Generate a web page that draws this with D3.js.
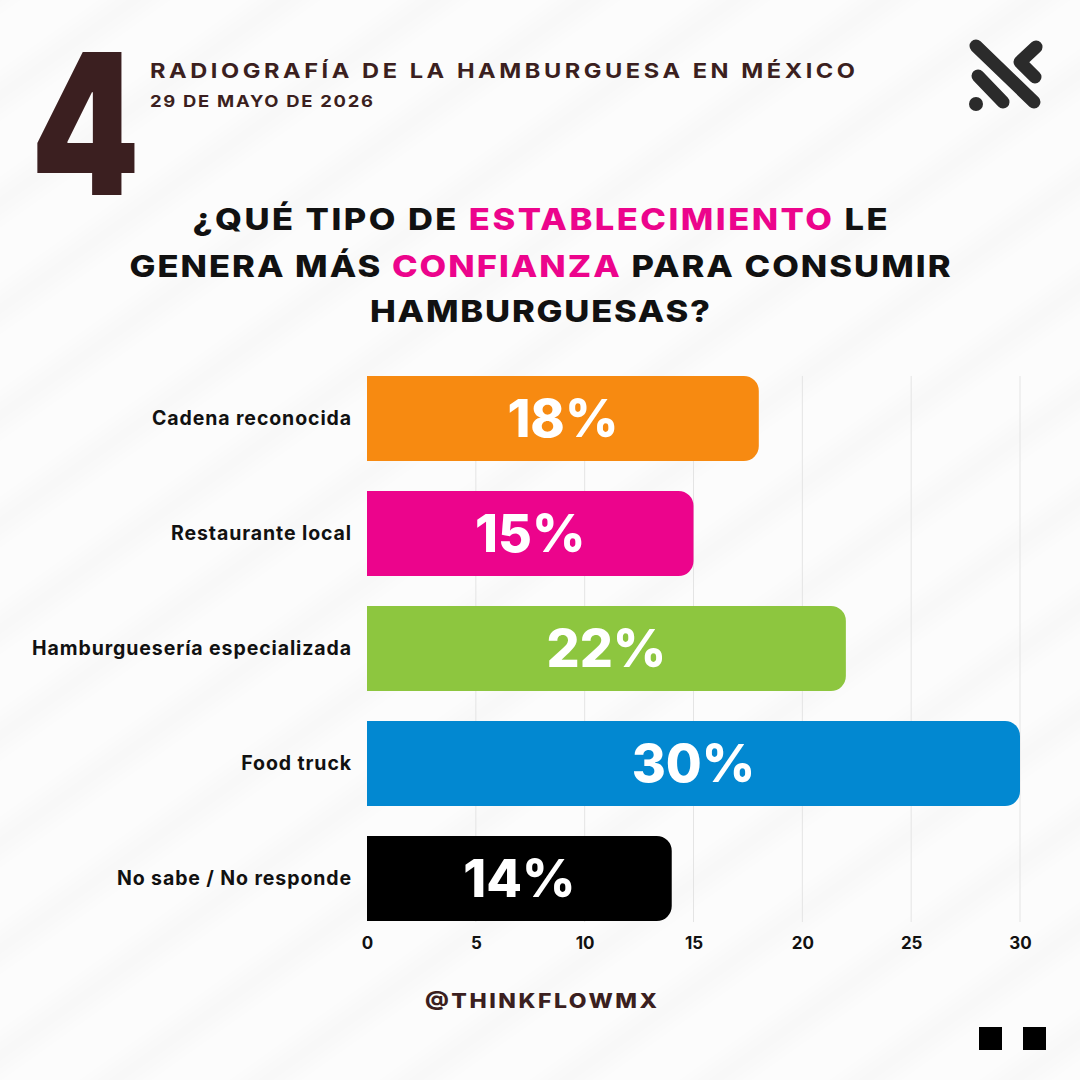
<!DOCTYPE html>
<html>
<head>
<meta charset="utf-8">
<script src="https://cdn.jsdelivr.net/npm/d3@7"></script>
<style>
  html, body { margin: 0; padding: 0; background: #f8f8f8; }
  svg text { font-family: Inter, "Open Sans", sans-serif; }
</style>
</head>
<body>
<script>
const W = 1080, H = 1080

// data
const categories = ["Cadena reconocida", "Restaurante local", "Hamburguesería especializada", "Food truck", "No sabe / No responde"]
const values = [18, 15, 22, 30, 14]
const colors = ["#f78a11", "#ec048c", "#8dc63f", "#0288d1", "#000000"]
const ticks = [0, 5, 10, 15, 20, 25, 30]

const BROWN = "#3b1f20"
const WIDE = 1.15   // horizontal stretch to get closer to the wide geometric face

var svg = d3.select("body").append("svg")
    .attr("width", W)
    .attr("height", H)

// background, soft diagonal bands
var defs = svg.append("defs")
defs.append("filter").attr("id", "soft")
    .append("feGaussianBlur").attr("stdDeviation", 8)

svg.append("rect").attr("width", W).attr("height", H).attr("fill", "#f8f8f8")
var bands = svg.append("g").attr("filter", "url(#soft)")
d3.range(-8, 16).forEach(function(i){
    bands.append("line")
        .attr("x1", i * 150 - 400).attr("y1", H + 100)
        .attr("x2", i * 150 + 1400).attr("y2", -100)
        .attr("stroke", "#ffffff")
        .attr("stroke-width", 60)
        .attr("opacity", 0.6)
})

// stretched text helper: x,y is the anchor point, len is the final width on screen
var wideText = function(x, y, size, weight, len, anchor){
    var g = svg.append("g").attr("transform", "translate(" + x + "," + y + ") scale(" + WIDE + ",1)")
    return g.append("text")
        .attr("x", 0).attr("y", 0)
        .attr("text-anchor", anchor)
        .attr("font-size", size)
        .attr("font-weight", weight)
        .attr("textLength", len / WIDE)
        .attr("lengthAdjust", "spacing")
}

// header
svg.append("text")
    .attr("transform", "translate(31,195) scale(0.79,1)")
    .attr("font-size", 196)
    .attr("font-weight", 900)
    .attr("fill", BROWN)
    .text("4")

wideText(150, 78, 20.5, 700, 705, "start")
    .attr("fill", BROWN)
    .text("RADIOGRAFÍA DE LA HAMBURGUESA EN MÉXICO")

wideText(150, 107, 16, 700, 223, "start")
    .attr("fill", BROWN)
    .text("29 DE MAYO DE 2026")

// logo
var logo = svg.append("g")
    .attr("stroke", "#2b2b2b")
    .attr("stroke-width", 13)
    .attr("stroke-linecap", "round")
    .attr("stroke-linejoin", "round")
    .attr("fill", "none")
logo.append("line").attr("x1", 976).attr("y1", 46).attr("x2", 1034).attr("y2", 102)
logo.append("line").attr("x1", 978).attr("y1", 76).attr("x2", 1003).attr("y2", 102)
logo.append("polyline").attr("points", "1036,47 1020,62 1035,77")
logo.append("circle").attr("cx", 976).attr("cy", 104).attr("r", 7).attr("fill", "#2b2b2b").attr("stroke", "none")

// question title
var titleLines = [
    [["¿QUÉ TIPO DE ", "#111"], ["ESTABLECIMIENTO", "#ec048c"], [" LE", "#111"]],
    [["GENERA MÁS ", "#111"], ["CONFIANZA", "#ec048c"], [" PARA CONSUMIR", "#111"]],
    [["HAMBURGUESAS?", "#111"]]
]
var titleY = [230, 277, 322]
var titleW = [695, 821, 340]
titleLines.forEach(function(line, i){
    var t = wideText(540, titleY[i], 30, 800, titleW[i], "middle")
        .style("white-space", "pre")
    line.forEach(function(seg){
        t.append("tspan").attr("fill", seg[1]).text(seg[0])
    })
})

// chart
var x = d3.scaleLinear().domain([0, 30]).range([367, 1020])
var y = d3.scaleBand().domain(categories).range([361, 936]).paddingInner(0.26).paddingOuter(0.13)

var grid = svg.append("g")
grid.selectAll("line").data(ticks.slice(1)).enter().append("line")
    .attr("x1", d => x(d)).attr("x2", d => x(d))
    .attr("y1", y(categories[0])).attr("y2", y(categories[4]) + y.bandwidth() + 1)
    .attr("stroke", "#e4e4e4")
    .attr("stroke-width", 1)

var R = 15
var barPath = function(d, i){
    var x0 = x(0), x1 = x(d), y0 = y(categories[i]), h = y.bandwidth()
    var r = Math.min(R, (x1 - x0))
    return "M" + x0 + "," + y0 +
        "H" + (x1 - r) +
        "A" + r + "," + r + " 0 0 1 " + x1 + "," + (y0 + r) +
        "V" + (y0 + h - r) +
        "A" + r + "," + r + " 0 0 1 " + (x1 - r) + "," + (y0 + h) +
        "H" + x0 + "Z"
}

svg.append("g").selectAll("path").data(values).enter().append("path")
    .attr("d", barPath)
    .attr("fill", (d, i) => colors[i])

svg.append("g").selectAll("text").data(values).enter().append("text")
    .attr("x", d => (x(0) + x(d)) / 2)
    .attr("y", (d, i) => y(categories[i]) + y.bandwidth() / 2)
    .attr("dy", "0.36em")
    .attr("text-anchor", "middle")
    .attr("font-size", 52)
    .attr("font-weight", 800)
    .attr("fill", "#fff")
    .text(d => d + "%")

// category labels
var yAxis = svg.append("g")
    .attr("transform", "translate(" + (x(0) - 15) + ",0)")
    .call(d3.axisLeft(y).tickSize(0).tickPadding(0))
yAxis.select(".domain").remove()
yAxis.selectAll("text")
    .attr("font-size", 19.5)
    .attr("font-weight", 700)
    .attr("letter-spacing", 0.9)
    .attr("fill", "#111")
    .style("font-family", "Inter, sans-serif")

// value axis
var xAxis = svg.append("g")
    .attr("transform", "translate(0," + 933 + ")")
    .call(d3.axisBottom(x).tickValues(ticks).tickSize(0).tickPadding(4))
xAxis.select(".domain").remove()
xAxis.selectAll("text")
    .attr("font-size", 17)
    .attr("font-weight", 700)
    .attr("fill", "#111")
    .style("font-family", "Inter, sans-serif")

// footer
wideText(541, 1008, 20, 800, 232, "middle")
    .attr("fill", BROWN)
    .text("@THINKFLOWMX")

svg.append("rect").attr("x", 979).attr("y", 1027).attr("width", 23).attr("height", 23).attr("fill", "#000")
svg.append("rect").attr("x", 1023).attr("y", 1027).attr("width", 23).attr("height", 23).attr("fill", "#000")
</script>
</body>
</html>
